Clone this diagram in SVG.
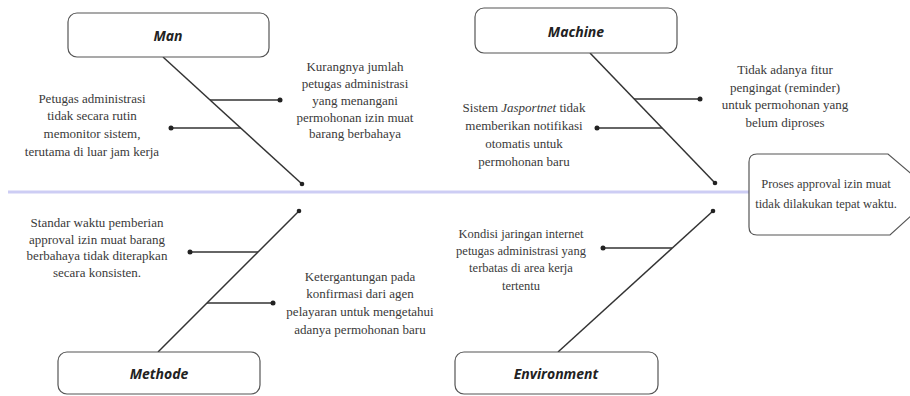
<svg xmlns="http://www.w3.org/2000/svg" width="910" height="396" viewBox="0 0 910 396">
<style>
.box{fill:#fff;stroke:#555;stroke-width:1.2}
.cat{font-family:"Open Sans","Liberation Sans",sans-serif;font-weight:bold;font-style:italic;font-size:14px;fill:#222;text-anchor:middle;dominant-baseline:central}
.t{font-family:"Liberation Serif","Times New Roman",serif;font-size:13px;fill:#3a3a3a;text-anchor:middle}
.bone{stroke:#333;stroke-width:1.5;fill:none}
.dot{fill:#222}
</style>
<rect width="910" height="396" fill="#fff"/>
<line x1="8" y1="192" x2="750" y2="192" stroke="#cdcdf4" stroke-width="3"/>
<g id="connectors">
<line class="bone" x1="163" y1="57" x2="302" y2="184"/>
<circle class="dot" cx="302" cy="184" r="2.3"/>
<line class="bone" x1="210" y1="100" x2="280" y2="100"/>
<circle class="dot" cx="280" cy="100" r="2.5"/>
<line class="bone" x1="241" y1="128" x2="171" y2="128"/>
<circle class="dot" cx="171" cy="128" r="2.5"/>
<line class="bone" x1="590" y1="53" x2="715" y2="183"/>
<circle class="dot" cx="715" cy="183" r="2.3"/>
<line class="bone" x1="634" y1="99" x2="700" y2="99"/>
<circle class="dot" cx="700" cy="99" r="2.5"/>
<line class="bone" x1="662" y1="128" x2="597" y2="128"/>
<circle class="dot" cx="597" cy="128" r="2.5"/>
<line class="bone" x1="158" y1="352" x2="299" y2="211"/>
<circle class="dot" cx="299" cy="211" r="2.3"/>
<line class="bone" x1="258" y1="252" x2="190" y2="252"/>
<circle class="dot" cx="190" cy="252" r="2.5"/>
<line class="bone" x1="207" y1="303" x2="273" y2="303"/>
<circle class="dot" cx="273" cy="303" r="2.5"/>
<line class="bone" x1="558" y1="352" x2="713" y2="211"/>
<circle class="dot" cx="713" cy="211" r="2.3"/>
<line class="bone" x1="672" y1="248" x2="603" y2="248"/>
<circle class="dot" cx="603" cy="248" r="2.5"/>
</g>
<g id="man">
<rect class="box" x="68" y="13" width="201" height="44" rx="9"/>
<text class="cat" x="168" y="35">Man</text>
</g>
<g id="machine">
<rect class="box" x="475" y="8" width="202" height="45" rx="9"/>
<text class="cat" x="576" y="31">Machine</text>
</g>
<g id="methode">
<rect class="box" x="58" y="352" width="202" height="42" rx="9"/>
<text class="cat" x="159" y="373">Methode</text>
</g>
<g id="environment">
<rect class="box" x="455" y="352" width="203" height="42" rx="9"/>
<text class="cat" x="556" y="373">Environment</text>
</g>
<g id="effect">
<path class="box" d="M757,154 L888,154 L935,194 L890,235 L757,235 Q749,235 749,227 L749,162 Q749,154 757,154 Z"/>
<text class="t" x="826" y="188" style="font-size:12.5px">Proses approval izin muat</text>
<text class="t" x="826" y="208" style="font-size:12.5px">tidak dilakukan tepat waktu.</text>
</g>
<g id="man-cause-1">
<text class="t" x="92" y="103">Petugas administrasi</text>
<text class="t" x="92" y="120">tidak secara rutin</text>
<text class="t" x="92" y="138">memonitor sistem,</text>
<text class="t" x="92" y="156">terutama di luar jam kerja</text>
</g>
<g id="man-cause-2">
<text class="t" x="355" y="71">Kurangnya jumlah</text>
<text class="t" x="355" y="88">petugas administrasi</text>
<text class="t" x="355" y="105">yang menangani</text>
<text class="t" x="355" y="122">permohonan izin muat</text>
<text class="t" x="355" y="138">barang berbahaya</text>
</g>
<g id="machine-cause-1">
<text class="t" x="524" y="112">Sistem <tspan font-style="italic">Jasportnet</tspan> tidak</text>
<text class="t" x="524" y="130">memberikan notifikasi</text>
<text class="t" x="524" y="148">otomatis untuk</text>
<text class="t" x="524" y="166">permohonan baru</text>
</g>
<g id="machine-cause-2">
<text class="t" x="785" y="74">Tidak adanya fitur</text>
<text class="t" x="785" y="92">pengingat (reminder)</text>
<text class="t" x="785" y="109">untuk permohonan yang</text>
<text class="t" x="785" y="127">belum diproses</text>
</g>
<g id="methode-cause-1">
<text class="t" x="97" y="227">Standar waktu pemberian</text>
<text class="t" x="97" y="244">approval izin muat barang</text>
<text class="t" x="97" y="260">berbahaya tidak diterapkan</text>
<text class="t" x="97" y="277">secara konsisten.</text>
</g>
<g id="methode-cause-2">
<text class="t" x="360" y="281">Ketergantungan pada</text>
<text class="t" x="360" y="298">konfirmasi dari agen</text>
<text class="t" x="360" y="316">pelayaran untuk mengetahui</text>
<text class="t" x="360" y="334">adanya permohonan baru</text>
</g>
<g id="environment-cause-1">
<text class="t" x="521" y="238" style="font-size:12.5px">Kondisi jaringan internet</text>
<text class="t" x="521" y="255" style="font-size:12.5px">petugas administrasi yang</text>
<text class="t" x="521" y="272" style="font-size:12.5px">terbatas di area kerja</text>
<text class="t" x="521" y="290" style="font-size:12.5px">tertentu</text>
</g>
</svg>
